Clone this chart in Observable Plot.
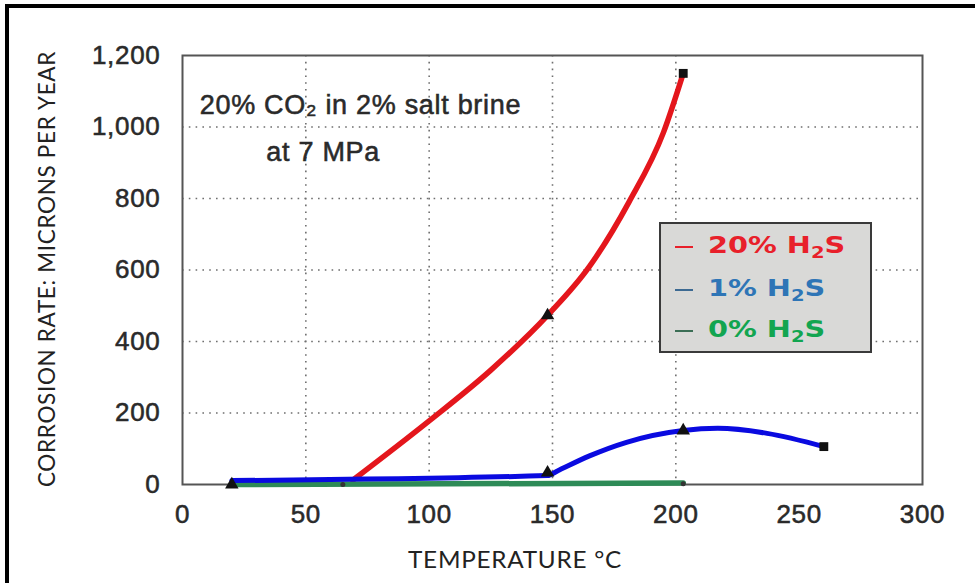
<!DOCTYPE html>
<html><head><meta charset="utf-8">
<script src="https://cdn.jsdelivr.net/npm/d3@7"></script>
<script src="https://cdn.jsdelivr.net/npm/@observablehq/plot@0.6"></script>
<style>
html,body{margin:0;padding:0;background:#fff;}
#wrap{position:relative;width:975px;height:583px;overflow:hidden;background:#fff;}
#wrap svg text{letter-spacing:0.7px;}
#wrap svg g[aria-label*="tick label"] text,
#wrap svg g[aria-label="text"] text{stroke:#2a2a2a;stroke-width:0.55px;}
.bt{position:absolute;left:5px;top:4px;width:970px;height:4px;background:#000;}
.bl{position:absolute;left:5px;top:4px;width:4px;height:579px;background:#000;}
#legend{position:absolute;left:659px;top:222px;width:209px;height:127px;background:#d9d9d7;border:2px solid #3a3a3a;font-family:"DejaVu Sans",sans-serif;font-weight:bold;}
.row{position:absolute;left:14px;height:30px;line-height:30px;white-space:nowrap;font-size:23px;}
.dash{display:inline-block;width:18px;height:2px;vertical-align:middle;margin-right:15px;}
.txt{display:inline-block;transform:scaleX(1.25);transform-origin:left center;}
.txt sub{font-size:0.68em;vertical-align:-0.3em;line-height:0;}
</style></head><body>
<div id="wrap"></div>
<script>
// ---- data ----
const redTemp  = [69, 100, 125, 148, 165, 181, 195, 203];
const redRate  = [12, 178, 320, 473, 610, 790, 985, 1150];
const blueTemp = [20, 148, 152, 165, 180, 203, 217, 237, 260];
const blueRate = [11, 25, 38, 80, 118, 151, 157, 143, 106];
const greenTemp = [20, 203];
const greenRate = [0, 4];

const triTemp = [20, 148, 148, 203];
const triRate = [0, 33, 473, 151];
const sqTemp = [203, 260];
const sqRate = [1150, 106];
const dotTemp = [65, 203];
const dotRate = [0, 2];

const xTicks = [0, 50, 100, 150, 200, 250, 300];
const yTicks = [0, 200, 400, 600, 800, 1000, 1200];
const xGrid = [50, 100, 150, 200];
const yGrid = [200, 400, 600, 800, 1000];

const seriesNames = ["20% H2S", "1% H2S", "0% H2S"];
const seriesColors = ["#e4161c", "#0a0ae0", "#2e8b57"];
const legendTextColors = ["#e8202a", "#2e75b6", "#12a550"];
const legendDashColors = ["#e8202a", "#3d6a92", "#3b6e55"];

const annoText = ["20% CO\u2082 in 2% salt brine", "at 7 MPa"];
const annoTemp = [7, 34];
const annoRate = [1060, 929];

const xTitle = "TEMPERATURE \u00b0C";
const yTitle = "CORROSION RATE: MICRONS PER YEAR";

// ---- tables ----
const zip = (a, b) => a.map((t, i) => ({t, v: b[i]}));
const red = zip(redTemp, redRate);
const blue = zip(blueTemp, blueRate);
const green = zip(greenTemp, greenRate);
const tris = zip(triTemp, triRate);
const sqs = zip(sqTemp, sqRate);
const dots = zip(dotTemp, dotRate);
const anno = annoText.map((s, i) => ({s, t: annoTemp[i], v: annoRate[i]}));

const gridStyle = {stroke: "#6f6f6f", strokeWidth: 1.6, strokeDasharray: "1.6,5.2"};

const plot = Plot.plot({
  width: 975, height: 583,
  marginLeft: 182, marginRight: 53, marginTop: 55, marginBottom: 99,
  style: {fontFamily: "'Liberation Sans', Arial, sans-serif", fontSize: "26px", color: "#2a2a2a", background: "transparent", overflow: "visible"},
  x: {domain: [0, 300], ticks: xTicks, tickSize: 0, tickPadding: 20, label: null},
  y: {domain: [0, 1200], ticks: yTicks, tickSize: 0, tickPadding: 22, tickFormat: d3.format(","), label: null},
  marks: [
    Plot.ruleX(xGrid, gridStyle),
    Plot.ruleY(yGrid, gridStyle),
    Plot.frame({stroke: "#555", strokeWidth: 2}),
    Plot.line(red, {x: "t", y: "v", stroke: seriesColors[0], strokeWidth: 5.5, curve: "monotone-x"}),
    Plot.line(green, {x: "t", y: "v", stroke: seriesColors[2], strokeWidth: 5.5}),
    Plot.line(blue, {x: "t", y: "v", stroke: seriesColors[1], strokeWidth: 5, curve: "monotone-x"}),
    Plot.dot(tris, {x: "t", y: "v", symbol: "triangle", fill: "#111", r: 5}),
    Plot.dot(sqs, {x: "t", y: "v", symbol: "square", fill: "#111", r: 5}),
    Plot.dot(dots, {x: "t", y: "v", fill: "#333", r: 2.5}),
    Plot.text(anno, {x: "t", y: "v", text: "s", textAnchor: "start", fontSize: 27, fill: "#2a2a2a"})
  ]
});

const svg = d3.select(plot);
svg.append("text")
  .attr("transform", "translate(46,269) rotate(-90)")
  .attr("text-anchor", "middle").attr("dominant-baseline", "central")
  .attr("font-family", "Lato, 'Open Sans', sans-serif").attr("font-size", 23)
  .attr("textLength", 436).attr("lengthAdjust", "spacingAndGlyphs")
  .attr("fill", "#222").text(yTitle);
svg.append("text")
  .attr("transform", "translate(515,559)")
  .attr("text-anchor", "middle").attr("dominant-baseline", "central")
  .attr("font-family", "Lato, 'Open Sans', sans-serif").attr("font-size", 23)
  .attr("textLength", 214).attr("lengthAdjust", "spacingAndGlyphs")
  .attr("fill", "#222").text(xTitle);

const wrap = document.getElementById("wrap");
wrap.appendChild(plot);
const bt = document.createElement("div"); bt.className = "bt"; wrap.appendChild(bt);
const bl = document.createElement("div"); bl.className = "bl"; wrap.appendChild(bl);

const legend = document.createElement("div");
legend.id = "legend";
const rowTops = [6, 49, 90];
seriesNames.forEach((name, i) => {
  const row = document.createElement("div");
  row.className = "row";
  row.style.top = rowTops[i] + "px";
  row.style.color = legendTextColors[i];
  row.innerHTML = `<span class="dash" style="background:${legendDashColors[i]}"></span><span class="txt">${name.replace("H2S", "H<sub>2</sub>S")}</span>`;
  legend.appendChild(row);
});
wrap.appendChild(legend);
</script>
</body></html>
